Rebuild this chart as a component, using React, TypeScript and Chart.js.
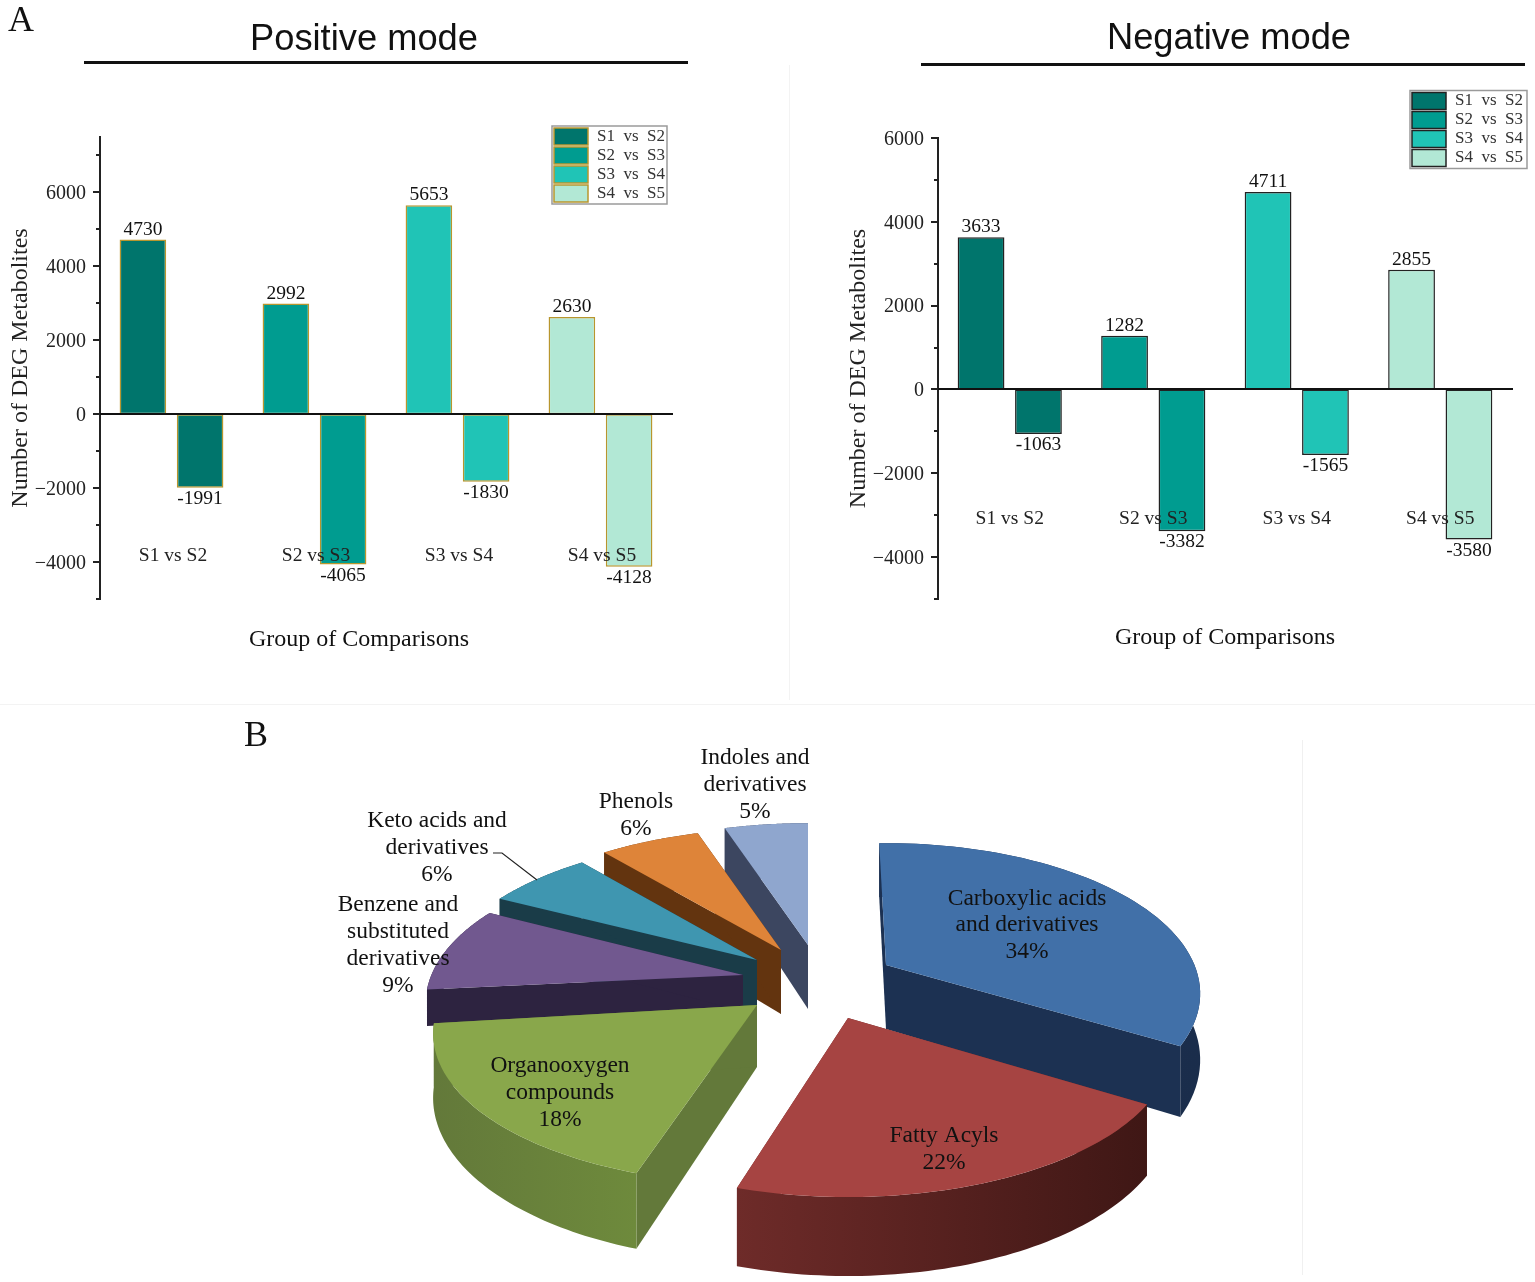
import React, { useEffect, useRef } from "react";
import { Chart, registerables } from "chart.js";

Chart.register(...registerables);

const categories = ["S1 vs S2", "S2 vs S3", "S3 vs S4", "S4 vs S5"];
const legendLabels = ["S1  vs  S2", "S2  vs  S3", "S3  vs  S4", "S4  vs  S5"];
const positiveUp = [4730, 2992, 5653, 2630];
const positiveDown = [-1991, -4065, -1830, -4128];
const negativeUp = [3633, 1282, 4711, 2855];
const negativeDown = [-1063, -3382, -1565, -3580];
const positiveTicks = [-5000, -4000, -3000, -2000, -1000, 0, 1000, 2000, 3000, 4000, 5000, 6000, 7000];
const negativeTicks = [-5000, -4000, -3000, -2000, -1000, 0, 1000, 2000, 3000, 4000, 5000, 6000];
const pieValues = [34, 22, 18, 9, 6, 6, 5];
const pieNames = [
  "Carboxylic acids and derivatives",
  "Fatty Acyls",
  "Organooxygen compounds",
  "Benzene and substituted derivatives",
  "Keto acids and derivatives",
  "Phenols",
  "Indoles and derivatives",
];

const barColors = ["#00756C", "#009C90", "#20C4B6", "#B2E8D5"];
const SERIF = "'Liberation Serif', serif";
const SANS = "'Liberation Sans', Arial, sans-serif";

// pie look: top faces, walls, per-slice shift from the pie's centre
const pieTop = ["#4170A8", "#A64442", "#89A74B", "#71588F", "#3F96B0", "#DE8439", "#8FA6CE"];
const pieWallA = ["#1C3152", "#6E2B29", "#63793A", "#2D2340", "#1A3C48", "#63340F", "#3C4660"];
const pieWallB = ["#1A2D4B", "#3F1715", "#6E8A3C", "#2D2340", "#1A3C48", "#63340F", "#3C4660"];
const pieShift: [number, number][] = [[86, -35], [48, 18], [-43, 5], [-57, -25], [-43, -40], [-19, -50], [8, -55]];
const pieDrawOrder = [6, 5, 4, 3, 2, 0, 1];
// drawing adjustments per slice: start and end edge turned by degrees, width factor, wall height
const pieStartNudge = [-1.5, 0, -3.5, -2, -1.5, 0, 0];
const pieEndNudge = [-2, -5, -3.5, -1, 0, 0, 0];
const pieWidth = [0.97, 1, 1, 0.98, 0.99, 1, 1];
const pieDepth = [64, 64, 62, 36, 64, 64, 64];
const PIE = { R: 318, H: 145, k: 0.19 };
// label placement, in canvas coordinates (canvas left 300, top 720)
const pieLabelLines = [
  { lines: ["Carboxylic acids", "and derivatives"], x: 727, y: 178.5 },
  { lines: ["Fatty Acyls"], x: 644, y: 416 },
  { lines: ["Organooxygen", "compounds"], x: 260, y: 346 },
  { lines: ["Benzene and", "substituted", "derivatives"], x: 98, y: 185 },
  { lines: ["Keto acids and", "derivatives"], x: 137, y: 101 },
  { lines: ["Phenols"], x: 336, y: 82 },
  { lines: ["Indoles and", "derivatives"], x: 455, y: 38 },
];

const project = (a: number, xs: number, depth: number) => {
  const u = Math.cos(a), v = Math.sin(a), w = 1 - PIE.k * v;
  return { x: (PIE.R * xs * u) / w, y: (PIE.H * v) / w, d: depth / w };
};

const pie3d = {
  id: "pie3d",
  beforeDatasetDraw(chart: any) {
    const ctx = chart.ctx;
    const arcs = chart.getDatasetMeta(0).data;
    for (const i of pieDrawOrder) {
      const arc = arcs[i];
      const ox = arc.x + pieShift[i][0], oy = arc.y + pieShift[i][1];
      const start = arc.startAngle + (pieStartNudge[i] * Math.PI) / 180;
      const end = arc.endAngle + (pieEndNudge[i] * Math.PI) / 180;
      const n = 60;
      const pts = [] as { x: number; y: number; d: number }[];
      for (let s = 0; s <= n; s++) {
        const p = project(start + ((end - start) * s) / n, pieWidth[i], pieDepth[i]);
        pts.push({ x: ox + p.x, y: oy + p.y, d: p.d });
      }
      const first = pts[0], last = pts[n];
      ctx.save();
      ctx.fillStyle = pieWallA[i];
      for (const e of [first, last]) {
        ctx.beginPath();
        ctx.moveTo(ox, oy);
        ctx.lineTo(e.x, e.y);
        ctx.lineTo(e.x, e.y + e.d);
        ctx.lineTo(ox, oy + pieDepth[i]);
        ctx.closePath();
        ctx.fill();
      }
      const xs = pts.map((p) => p.x);
      const g = ctx.createLinearGradient(Math.min(...xs), 0, Math.max(...xs), 0);
      g.addColorStop(0, pieWallA[i]);
      g.addColorStop(1, pieWallB[i]);
      ctx.fillStyle = g;
      ctx.beginPath();
      pts.forEach((p, idx) => (idx ? ctx.lineTo(p.x, p.y) : ctx.moveTo(p.x, p.y)));
      for (let s = n; s >= 0; s--) ctx.lineTo(pts[s].x, pts[s].y + pts[s].d);
      ctx.closePath();
      ctx.fill();
      ctx.fillStyle = arc.options.backgroundColor;
      ctx.beginPath();
      ctx.moveTo(ox, oy);
      pts.forEach((p) => ctx.lineTo(p.x, p.y));
      ctx.closePath();
      ctx.fill();
      ctx.restore();
    }
    return false;
  },
  afterDraw(chart: any) {
    const ctx = chart.ctx;
    const values = chart.data.datasets[0].data;
    ctx.save();
    ctx.font = `23.5px ${SERIF}`;
    ctx.fillStyle = "#111";
    ctx.textAlign = "center";
    ctx.textBaseline = "middle";
    pieLabelLines.forEach((l, i) => {
      const all = [...l.lines, `${values[i]}%`];
      all.forEach((t, k) => ctx.fillText(t, l.x, l.y + k * 26.8));
    });
    ctx.strokeStyle = "#222";
    ctx.lineWidth = 1.2;
    ctx.beginPath();
    ctx.moveTo(193, 133);
    ctx.lineTo(202, 133);
    ctx.lineTo(237, 160);
    ctx.stroke();
    ctx.restore();
  },
};

const barExtras = {
  id: "barExtras",
  afterDraw(chart: any, _a: any, o: any) {
    const ctx = chart.ctx;
    const y = chart.scales.y;
    ctx.save();
    // tick marks, long on labelled values, short between them
    ctx.strokeStyle = "#222";
    ctx.lineWidth = 2;
    y.ticks.forEach((t: any) => {
      const py = y.getPixelForValue(t.value);
      const len = t.value % 2000 === 0 ? 7 : 4;
      ctx.beginPath();
      ctx.moveTo(y.right, Math.round(py));
      ctx.lineTo(y.right - len, Math.round(py));
      ctx.stroke();
    });
    // value labels
    ctx.font = `19.5px ${SERIF}`;
    ctx.fillStyle = "#111";
    ctx.textAlign = "center";
    ctx.textBaseline = "middle";
    chart.data.datasets.forEach((ds: any, di: number) => {
      chart.getDatasetMeta(di).data.forEach((b: any, i: number) => {
        const v = ds.data[i];
        ctx.fillText(String(v), b.x, v >= 0 ? b.y - 10 : b.y + 11);
      });
    });
    // legend
    const { x: lx, y: ly, w: lw, h: lh, text: tx, border } = o.legend;
    ctx.fillStyle = "#fff";
    ctx.strokeStyle = "#9a9a9a";
    ctx.lineWidth = 1.5;
    ctx.fillRect(lx, ly, lw, lh);
    ctx.strokeRect(lx, ly, lw, lh);
    ctx.font = `17px ${SERIF}`;
    ctx.textAlign = "left";
    legendLabels.forEach((t, i) => {
      const ry = ly + 2 + i * 19;
      ctx.fillStyle = barColors[i];
      ctx.strokeStyle = border;
      ctx.fillRect(lx + 2, ry, 34, 17);
      ctx.strokeRect(lx + 2, ry, 34, 17);
      ctx.fillStyle = "#333";
      ctx.fillText(t, lx + tx, ry + 8.5);
    });
    ctx.restore();
  },
};

function makeBar(canvas: HTMLCanvasElement, cfg: any) {
  const ds = (data: number[]) => ({
    data,
    backgroundColor: barColors,
    borderColor: cfg.border,
    borderWidth: 1.5,
    borderSkipped: false,
    categoryPercentage: 0.8,
    barPercentage: 0.815,
  });
  return new Chart(canvas, {
    type: "bar",
    data: { labels: categories, datasets: [ds(cfg.up), ds(cfg.down)] },
    plugins: [barExtras],
    options: {
      animation: false,
      responsive: false,
      layout: { padding: cfg.padding },
      plugins: { legend: { display: false }, tooltip: { enabled: false }, barExtras: { legend: cfg.legend } },
      scales: {
        x: {
          position: { y: 0 },
          grid: { display: false, drawTicks: false },
          border: { display: true, color: "#111", width: 2, z: 2 },
          afterFit: (s: any) => {
            s.height = 0;
            s.paddingLeft = 0;
            s.paddingRight = 0;
          },
          ticks: {
            z: 3,
            padding: cfg.xPad,
            labelOffset: cfg.xShift,
            maxRotation: 0,
            autoSkip: false,
            color: "#222",
            font: { family: SERIF, size: 19.5 },
          },
        },
        y: {
          min: -5000,
          max: cfg.max,
          grid: { display: false, drawTicks: false },
          border: { display: true, color: "#222", width: 2 },
          afterBuildTicks: (s: any) => {
            s.ticks = cfg.ticks.map((value: number) => ({ value }));
          },
          afterFit: (s: any) => {
            s.width = 94;
            s.paddingTop = 0;
            s.paddingBottom = 0;
          },
          title: {
            display: true,
            text: "Number of DEG Metabolites",
            color: "#222",
            padding: 0,
            font: { family: SERIF, size: 24 },
          },
          ticks: {
            autoSkip: false,
            padding: 14,
            labelOffset: 1.5,
            color: "#222",
            font: { family: SERIF, size: 20 },
            callback: (v: any) =>
              Number(v) % 2000 !== 0 ? "" : Number(v) < 0 ? `\u2212${Math.abs(Number(v))}` : String(v),
          },
        },
      },
    },
  } as any);
}

const abs = (style: React.CSSProperties): React.CSSProperties => ({ position: "absolute", ...style });
const centred = (x: number, y: number, font: string, size: number): React.CSSProperties =>
  abs({
    left: x - 300,
    width: 600,
    top: y - size,
    height: size * 2,
    lineHeight: `${size * 2}px`,
    textAlign: "center",
    fontFamily: font,
    fontSize: size,
    color: "#111",
  });

export default function App() {
  const a = useRef<HTMLCanvasElement>(null);
  const b = useRef<HTMLCanvasElement>(null);
  const c = useRef<HTMLCanvasElement>(null);
  useEffect(() => {
    const c1 = makeBar(a.current!, {
      up: positiveUp,
      down: positiveDown,
      ticks: positiveTicks,
      border: "#B8962E",
      max: 7500,
      xPad: 130,
      xShift: 1.5,
      padding: { left: 6, right: 108, top: 137, bottom: 101 },
      legend: { x: 552, y: 126, w: 115, h: 78, text: 45, border: "#B8962E" },
    });
    const c2 = makeBar(b.current!, {
      up: negativeUp,
      down: negativeDown,
      ticks: negativeTicks,
      border: "#222",
      max: 6000,
      xPad: 118,
      xShift: 0,
      padding: { left: 54, right: 23, top: 138, bottom: 101 },
      legend: { x: 620, y: 90.5, w: 117, h: 78, text: 45, border: "#222" },
    });
    const c3 = new Chart(c.current!, {
      type: "pie",
      data: {
        labels: pieNames,
        datasets: [{ data: pieValues, backgroundColor: pieTop, borderWidth: 0 }],
      },
      plugins: [pie3d],
      options: {
        animation: false,
        responsive: false,
        plugins: { legend: { display: false }, tooltip: { enabled: false } },
      },
    } as any);
    return () => {
      c1.destroy();
      c2.destroy();
      c3.destroy();
    };
  }, []);
  return (
    <div style={abs({ left: 0, top: 0, width: 1535, height: 1282, background: "#fff", overflow: "hidden" })}>
      <div style={abs({ left: 789, top: 65, width: 1, height: 635, background: "#f3f3f3" })} />
      <div style={abs({ left: 0, top: 704, width: 1535, height: 1, background: "#f3f3f3" })} />
      <div style={abs({ left: 1302, top: 740, width: 1, height: 535, background: "#f0f0f0" })} />
      <canvas ref={a} width={780} height={700} style={abs({ left: 0, top: 0 })} />
      <canvas ref={b} width={745} height={700} style={abs({ left: 790, top: 0 })} />
      <canvas ref={c} width={1000} height={560} style={abs({ left: 300, top: 720 })} />
      <div style={centred(21, 19, SERIF, 36)}>A</div>
      <div style={centred(256, 734, SERIF, 36)}>B</div>
      <div style={centred(364, 38, SANS, 36.3)}>Positive mode</div>
      <div style={centred(1229, 37, SANS, 36.3)}>Negative mode</div>
      <div style={abs({ left: 84, top: 60.5, width: 604, height: 3, background: "#111" })} />
      <div style={abs({ left: 921, top: 62.5, width: 604, height: 3, background: "#111" })} />
      <div style={centred(359, 638, SERIF, 24)}>Group of Comparisons</div>
      <div style={centred(1225, 636, SERIF, 24)}>Group of Comparisons</div>
    </div>
  );
}
